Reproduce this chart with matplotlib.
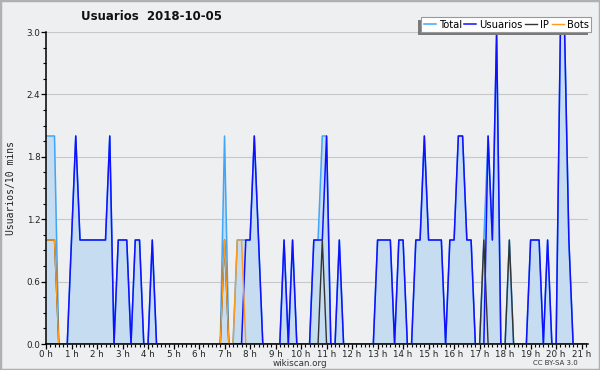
import matplotlib
matplotlib.use('Agg')
import matplotlib.pyplot as plt
import matplotlib.ticker as ticker
from matplotlib.patches import Rectangle
import numpy as np

# one value per 10 minutes, one row per hour (0 h .. 21 h)
total = [
    2, 2, 2, 0, 0, 0,
    1, 2, 1, 1, 1, 1,
    1, 1, 1, 2, 0, 1,
    1, 1, 0, 1, 1, 0,
    0, 1, 0, 0, 0, 0,
    0, 0, 0, 0, 0, 0,
    0, 0, 0, 0, 0, 0,
    2, 0, 0, 1, 1, 1,
    1, 2, 1, 0, 0, 0,
    0, 0, 1, 0, 1, 0,
    0, 0, 0, 1, 1, 2,
    2, 0, 0, 1, 0, 0,
    0, 0, 0, 0, 0, 0,
    1, 1, 1, 1, 0, 1,
    1, 0, 0, 1, 1, 2,
    1, 1, 1, 1, 0, 1,
    1, 2, 2, 1, 1, 0,
    0, 1, 2, 1, 3, 0,
    0, 1, 0, 0, 0, 0,
    1, 1, 1, 0, 1, 0,
    0, 3, 3, 1, 0, 0,
    0, 0,
]
usuarios = [
    0, 0, 0, 0, 0, 0,
    1, 2, 1, 1, 1, 1,
    1, 1, 1, 2, 0, 1,
    1, 1, 0, 1, 1, 0,
    0, 1, 0, 0, 0, 0,
    0, 0, 0, 0, 0, 0,
    0, 0, 0, 0, 0, 0,
    0, 0, 0, 0, 0, 1,
    1, 2, 1, 0, 0, 0,
    0, 0, 1, 0, 1, 0,
    0, 0, 0, 1, 1, 1,
    2, 0, 0, 1, 0, 0,
    0, 0, 0, 0, 0, 0,
    1, 1, 1, 1, 0, 1,
    1, 0, 0, 1, 1, 2,
    1, 1, 1, 1, 0, 1,
    1, 2, 2, 1, 1, 0,
    0, 0, 2, 1, 3, 0,
    0, 0, 0, 0, 0, 0,
    1, 1, 1, 0, 1, 0,
    0, 3, 3, 1, 0, 0,
    0, 0,
]
ip = [
    1, 1, 1, 0, 0, 0,
    0, 0, 0, 0, 0, 0,
    0, 0, 0, 0, 0, 0,
    0, 0, 0, 0, 0, 0,
    0, 0, 0, 0, 0, 0,
    0, 0, 0, 0, 0, 0,
    0, 0, 0, 0, 0, 0,
    1, 0, 0, 0, 0, 0,
    0, 0, 0, 0, 0, 0,
    0, 0, 0, 0, 0, 0,
    0, 0, 0, 0, 0, 1,
    0, 0, 0, 0, 0, 0,
    0, 0, 0, 0, 0, 0,
    0, 0, 0, 0, 0, 0,
    0, 0, 0, 0, 0, 0,
    0, 0, 0, 0, 0, 0,
    0, 0, 0, 0, 0, 0,
    0, 1, 0, 0, 0, 0,
    0, 1, 0, 0, 0, 0,
    0, 0, 0, 0, 0, 0,
    0, 0, 0, 0, 0, 0,
    0, 0,
]
bots = [
    1, 1, 1, 0, 0, 0,
    0, 0, 0, 0, 0, 0,
    0, 0, 0, 0, 0, 0,
    0, 0, 0, 0, 0, 0,
    0, 0, 0, 0, 0, 0,
    0, 0, 0, 0, 0, 0,
    0, 0, 0, 0, 0, 0,
    1, 0, 0, 1, 1, 0,
    0, 0, 0, 0, 0, 0,
    0, 0, 0, 0, 0, 0,
    0, 0, 0, 0, 0, 0,
    0, 0, 0, 0, 0, 0,
    0, 0, 0, 0, 0, 0,
    0, 0, 0, 0, 0, 0,
    0, 0, 0, 0, 0, 0,
    0, 0, 0, 0, 0, 0,
    0, 0, 0, 0, 0, 0,
    0, 0, 0, 0, 0, 0,
    0, 0, 0, 0, 0, 0,
    0, 0, 0, 0, 0, 0,
    0, 0, 0, 0, 0, 0,
    0, 0,
]
hour_labels = [f"{h} h" for h in range(22)]
y_ticks = [0.0, 0.6, 1.2, 1.8, 2.4, 3.0]

BG = '#eeeff1'
hours = np.arange(len(total)) * 10 / 60.0

fig = plt.figure(figsize=(6, 3.7), dpi=100, facecolor=BG)
ax = fig.add_axes([46 / 600, 1 - 344 / 370, 542 / 600, 312 / 370])
ax.set_facecolor(BG)

ax.fill_between(hours, 0, total, color='#c6dcf0', lw=0, zorder=1)
l_total, = ax.plot(hours, total, color='#42a5f5', lw=1.1, zorder=2)
l_usr, = ax.plot(hours, usuarios, color='#1010ff', lw=1.1, zorder=3)
l_ip, = ax.plot(hours, ip, color='#333333', lw=1.0, zorder=4)
l_bots, = ax.plot(hours, bots, color='#ff9a1a', lw=1.0, zorder=5)

ax.set_xlim(0, 127.5 / 6)
ax.set_ylim(0, 3.0)

ax.xaxis.set_major_locator(ticker.FixedLocator(range(len(hour_labels))))
ax.xaxis.set_major_formatter(ticker.FixedFormatter(hour_labels))
ax.xaxis.set_minor_locator(ticker.MultipleLocator(1 / 6))
ax.yaxis.set_major_locator(ticker.FixedLocator(y_ticks))
ax.yaxis.set_major_formatter(ticker.FormatStrFormatter('%.1f'))
ax.yaxis.set_minor_locator(ticker.MultipleLocator(0.15))

ax.tick_params(axis='both', which='major', labelsize=6.3, length=3.5, width=0.9,
               color='black', pad=0.5, labelcolor='#222222')
ax.tick_params(axis='both', which='minor', length=2.5, width=0.8, color='black')

ax.yaxis.grid(True, color='#c8c8c8', lw=0.8, zorder=0)
ax.set_axisbelow(True)
for side in ['top', 'right']:
    ax.spines[side].set_visible(False)
for side in ['left', 'bottom']:
    ax.spines[side].set_linewidth(1.1)
    ax.spines[side].set_zorder(6)

fig.text(0.252, 0.955, 'Usuarios  2018-10-05', ha='center', va='center',
         fontsize=8.5, fontweight='bold', color='#111111')
fig.text(0.018, 0.492, 'Usuarios/10 mins', rotation=90, ha='center', va='center',
         fontsize=7, family='DejaVu Sans Mono', color='#222222')
fig.text(0.5, 0.018, 'wikiscan.org', ha='center', va='center', fontsize=6.3, color='#333333')
fig.text(0.925, 0.02, 'CC BY-SA 3.0', ha='center', va='center', fontsize=5, color='#333333')

leg = fig.legend([l_total, l_usr, l_ip, l_bots], ['Total', 'Usuarios', 'IP', 'Bots'],
                 loc='upper right', bbox_to_anchor=(591 / 600, 1 - 17 / 370),
                 bbox_transform=fig.transFigure, borderaxespad=0, ncol=4,
                 fontsize=7.2, frameon=True, fancybox=False, handlelength=1.2,
                 handletextpad=0.3, columnspacing=0.25, borderpad=0.25)
leg.get_frame().set_facecolor('white')
leg.get_frame().set_edgecolor('#999999')
leg.get_frame().set_linewidth(0.8)
leg.get_frame().set_alpha(1)
leg.set_zorder(10)

# shadow offset to the lower left, like the original
fig.canvas.draw()
bb = leg.get_window_extent().transformed(fig.transFigure.inverted())
shadow = Rectangle((bb.x0 - 3 / 600, bb.y0 - 3 / 370), bb.width, bb.height,
                   transform=fig.transFigure, facecolor='#7a7a7a', edgecolor='none', zorder=9)
fig.add_artist(shadow)

fig.add_artist(Rectangle((0, 0), 1, 1, transform=fig.transFigure, fill=False,
                         edgecolor='#b0b0b0', lw=2.5, zorder=20))

fig.savefig('out.png', dpi=100, facecolor=BG)
